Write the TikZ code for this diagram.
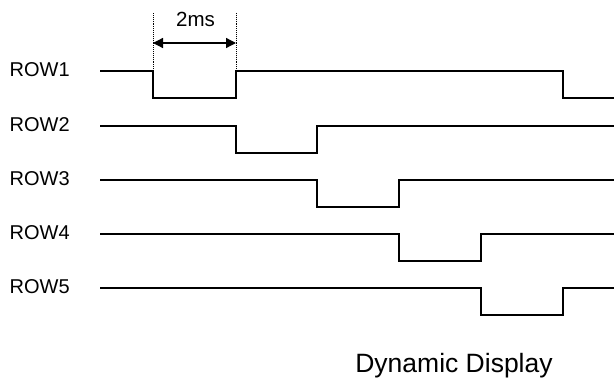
\documentclass[tikz,border=0pt]{standalone}
\usepackage{fontspec}
\setmainfont{Liberation Sans}
\usetikzlibrary{arrows.meta}
\begin{document}
\begin{tikzpicture}[x=1pt,y=-1pt,
  wave/.style={line width=2pt,line join=miter},
  rowlabel/.style={font=\fontsize{20}{20}\selectfont,anchor=base west,inner sep=0pt},
  guide/.style={densely dotted,line width=0.9pt},
  dim/.style={line width=1.3pt,{Triangle[length=10pt,width=10pt]}-{Triangle[length=10pt,width=10pt]}}]
\useasboundingbox (0,0) rectangle (614,378);
% labels
\node[rowlabel] (r1) at (9.5,76) {ROW1};
\node[rowlabel] (r2) at (9.5,131) {ROW2};
\node[rowlabel] (r3) at (9.5,185) {ROW3};
\node[rowlabel] (r4) at (9.5,239) {ROW4};
\node[rowlabel] (r5) at (9.5,293) {ROW5};
% waveforms
\draw[wave] (100,71) -- (153,71) -- (153,98) -- (236,98) -- (236,71) -- (563,71) -- (563,98) -- (614,98);
\draw[wave] (100,126) -- (236,126) -- (236,153) -- (317,153) -- (317,126) -- (614,126);
\draw[wave] (100,180) -- (317,180) -- (317,207) -- (399,207) -- (399,180) -- (614,180);
\draw[wave] (100,234) -- (399,234) -- (399,261) -- (481,261) -- (481,234) -- (614,234);
\draw[wave] (100,288) -- (481,288) -- (481,315) -- (563,315) -- (563,288) -- (614,288);
% dimension
\coordinate (ga) at (153,13);
\coordinate (gb) at (236,13);
\coordinate (ha) at (153,71);
\coordinate (hb) at (236,71);
\draw[guide] (ga) -- (ha);
\draw[guide] (gb) -- (hb);
\coordinate (da) at (153,43);
\coordinate (db) at (236,43);
\draw[dim] (da) -- (db);
\node[font=\fontsize{20.5}{20}\selectfont,inner sep=0pt,anchor=base] (t2ms) at (195.5,26) {2ms};
\node[font=\fontsize{26.5}{26}\selectfont,inner sep=0pt,anchor=base] (title) at (454,372) {Dynamic Display};
\end{tikzpicture}
\end{document}
